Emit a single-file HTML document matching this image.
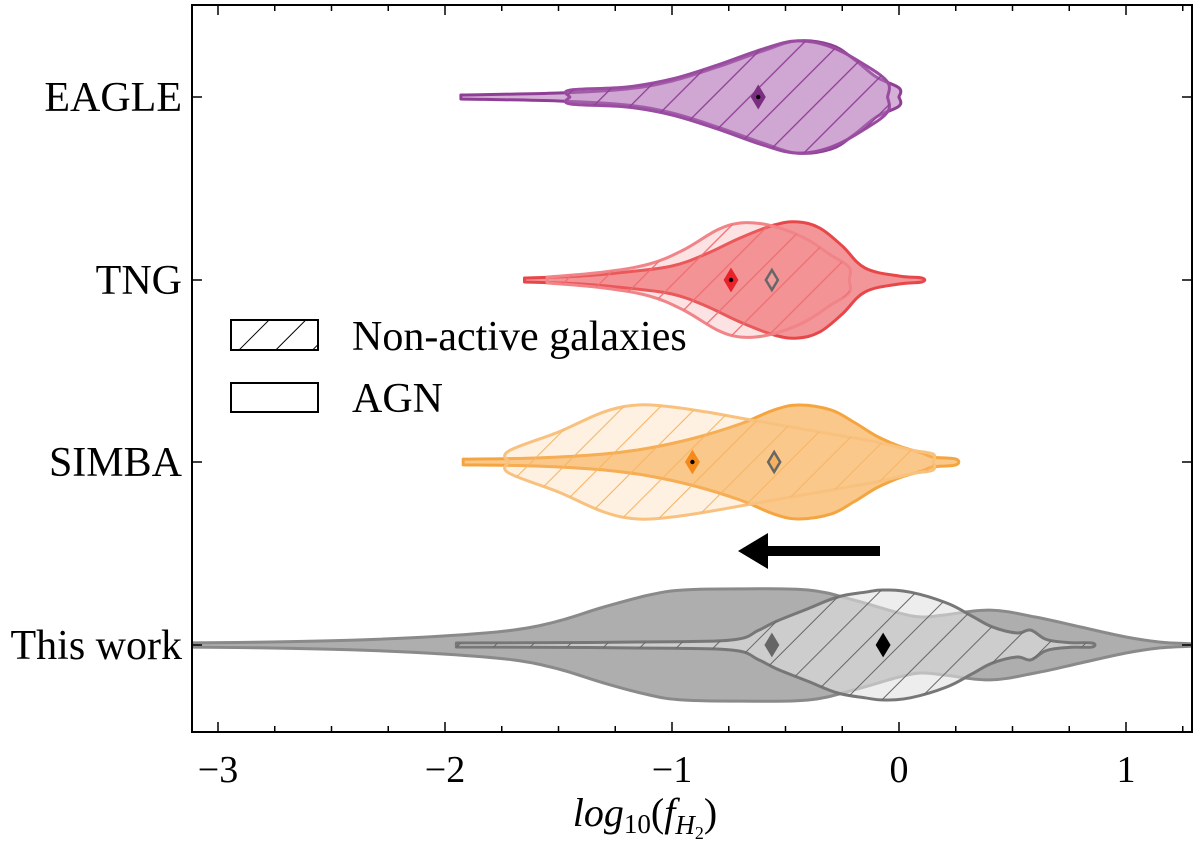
<!DOCTYPE html>
<html><head><meta charset="utf-8"><style>
html,body{margin:0;padding:0;background:#fff;}
svg{display:block;font-family:"Liberation Serif","DejaVu Serif",serif;}
</style></head><body>
<svg id="chart" width="1200" height="846" viewBox="0 0 1200 846" xmlns="http://www.w3.org/2000/svg">
<defs>
<pattern id="h-purple" patternUnits="userSpaceOnUse" width="26" height="26" patternTransform="rotate(45)"><line x1="0" y1="0" x2="0" y2="26" stroke="#8e3f95" stroke-width="2.6"/></pattern>
<pattern id="h-red" patternUnits="userSpaceOnUse" width="26" height="26" patternTransform="rotate(45)"><line x1="0" y1="0" x2="0" y2="26" stroke="#ef6f72" stroke-width="2.6"/></pattern>
<pattern id="h-orange" patternUnits="userSpaceOnUse" width="26" height="26" patternTransform="rotate(45)"><line x1="0" y1="0" x2="0" y2="26" stroke="#f7b565" stroke-width="2.2"/></pattern>
<pattern id="h-grey" patternUnits="userSpaceOnUse" width="26" height="26" patternTransform="rotate(45)"><line x1="0" y1="0" x2="0" y2="26" stroke="#666" stroke-width="2"/></pattern>
<pattern id="h-black" patternUnits="userSpaceOnUse" width="26" height="26" patternTransform="rotate(45)"><line x1="0" y1="0" x2="0" y2="26" stroke="#000" stroke-width="2"/></pattern>
<clipPath id="plotclip"><rect x="192" y="5" width="1000" height="727"/></clipPath>
</defs>
<g id="violins" clip-path="url(#plotclip)"></g>
<g id="axes"></g>
<g>
<rect x="231" y="320" width="87" height="30" fill="url(#h-black)" stroke="#000" stroke-width="2"/>
<text x="352" y="350" font-size="42">Non-active galaxies</text>
<rect x="231" y="383" width="87" height="29" fill="none" stroke="#000" stroke-width="2"/>
<text x="352" y="412" font-size="42">AGN</text>
</g>
<polygon points="880,546 768,546 768,533 738,551 768,569 768,556 880,556" fill="#000"/>
</svg>
<script>
const categories = ["EAGLE","TNG","SIMBA","This work"];
const xTicks = [-3,-2,-1,0,1];
const xTickLabels = ["\u22123","\u22122","\u22121","0","1"];
// violin profiles: x (log10 fH2) and half-width density (fraction of category spacing)
const eagleAgnX = [-1.93,-1.5,-1.2,-1.0,-0.8,-0.6,-0.45,-0.3,-0.2,-0.1,0.0,0.0];
const eagleAgnW = [0.011,0.022,0.044,0.088,0.165,0.253,0.308,0.286,0.209,0.11,0.05,0];
const eagleNonX = [-1.45,-1.45,-1.2,-1.0,-0.8,-0.6,-0.45,-0.3,-0.15,-0.05,-0.05];
const eagleNonW = [0,0.038,0.055,0.099,0.176,0.264,0.308,0.275,0.176,0.082,0];
const tngAgnX = [-1.65,-1.4,-1.2,-1.0,-0.85,-0.7,-0.55,-0.45,-0.35,-0.25,-0.15,0.0,0.1];
const tngAgnW = [0.011,0.022,0.044,0.077,0.143,0.231,0.302,0.319,0.286,0.187,0.066,0.022,0.011];
const tngNonX = [-1.55,-1.3,-1.1,-0.95,-0.8,-0.7,-0.6,-0.5,-0.4,-0.3,-0.22,-0.22];
const tngNonW = [0.016,0.044,0.088,0.165,0.275,0.313,0.308,0.275,0.22,0.137,0.07,0];
const simbaAgnX = [-1.92,-1.6,-1.3,-1.1,-0.9,-0.7,-0.55,-0.44,-0.3,-0.2,-0.1,0.0,0.1,0.15,0.25];
const simbaAgnW = [0.016,0.022,0.044,0.077,0.132,0.209,0.286,0.313,0.286,0.22,0.143,0.088,0.05,0.027,0.016];
const simbaNonX = [-1.72,-1.72,-1.5,-1.3,-1.15,-1.0,-0.85,-0.7,-0.5,-0.3,-0.1,0.05,0.15,0.15];
const simbaNonW = [0,0.06,0.165,0.275,0.313,0.302,0.275,0.242,0.198,0.154,0.11,0.066,0.044,0];
const workAgnX = [-3.2,-2.8,-2.4,-2.0,-1.7,-1.5,-1.3,-1.1,-0.95,-0.7,-0.4,-0.2,0.0,0.1,0.2,0.4,0.6,0.8,1.0,1.15,1.3];
const workAgnW = [0.011,0.016,0.027,0.05,0.082,0.132,0.209,0.275,0.302,0.308,0.302,0.247,0.176,0.154,0.165,0.192,0.154,0.099,0.044,0.016,0.005];
const workNonX = [-1.95,-1.5,-1.0,-0.72,-0.62,-0.54,-0.4,-0.27,-0.15,-0.07,0.05,0.21,0.32,0.41,0.52,0.58,0.65,0.75,0.85];
const workNonW = [0.011,0.013,0.018,0.03,0.08,0.13,0.2,0.264,0.29,0.302,0.29,0.231,0.16,0.1,0.066,0.082,0.03,0.013,0.011];
const medianNon = [-0.62,-0.74,-0.91,-0.56];
const medianAgn = [-0.62,-0.56,-0.55,-0.07];

const L=192, R=1192, T=5, B=732;
const X0=899, XS=227;
const catY=[97,280,462,645], SP=182;
function xs(v){return X0+v*XS;}
function ys(i){return catY[i];}
function hw(w){return w*SP;}

const NS="http://www.w3.org/2000/svg";
function mk(tag,attrs,parent){const e=document.createElementNS(NS,tag);for(const k in attrs)e.setAttribute(k,attrs[k]);parent.appendChild(e);return e;}

function violinPath(xa,wa,ci){
  const pts=[];
  for(let i=0;i<xa.length;i++)pts.push([xs(xa[i]),ys(ci)-hw(wa[i])]);
  for(let i=xa.length-1;i>=0;i--)pts.push([xs(xa[i]),ys(ci)+hw(wa[i])]);
  let d="M"+pts[0][0].toFixed(1)+","+pts[0][1].toFixed(1);
  for(let i=0;i<pts.length-1;i++){
    const p0=pts[Math.max(i-1,0)],p1=pts[i],p2=pts[i+1],p3=pts[Math.min(i+2,pts.length-1)];
    const t=0.18;
    const c1=[p1[0]+(p2[0]-p0[0])*t,p1[1]+(p2[1]-p0[1])*t];
    const c2=[p2[0]-(p3[0]-p1[0])*t,p2[1]-(p3[1]-p1[1])*t];
    d+=" C"+c1[0].toFixed(1)+","+c1[1].toFixed(1)+" "+c2[0].toFixed(1)+","+c2[1].toFixed(1)+" "+p2[0].toFixed(1)+","+p2[1].toFixed(1);
  }
  return d+"Z";
}
const vg=document.getElementById('violins');
const specs=[
 {x:eagleAgnX,w:eagleAgnW,c:0,fill:"rgba(160,80,165,0.45)",stroke:"#8e3f95",hatch:null,name:"violin-eagle-agn"},
 {x:eagleNonX,w:eagleNonW,c:0,fill:"rgba(200,150,205,0.35)",stroke:"#9a4ca0",hatch:"h-purple",name:"violin-eagle-non-active"},
 {x:tngAgnX,w:tngAgnW,c:1,fill:"rgba(235,80,85,0.6)",stroke:"#e8474a",hatch:null,name:"violin-tng-agn"},
 {x:tngNonX,w:tngNonW,c:1,fill:"rgba(245,140,140,0.25)",stroke:"#f08488",hatch:"h-red",name:"violin-tng-non-active"},
 {x:simbaAgnX,w:simbaAgnW,c:2,fill:"rgba(247,170,75,0.65)",stroke:"#f5a540",hatch:null,name:"violin-simba-agn"},
 {x:simbaNonX,w:simbaNonW,c:2,fill:"rgba(250,200,140,0.25)",stroke:"#f9c17e",hatch:"h-orange",name:"violin-simba-non-active"},
 {x:workAgnX,w:workAgnW,c:3,fill:"rgba(140,140,140,0.7)",stroke:"#8a8a8a",hatch:null,name:"violin-this-work-agn"},
 {x:workNonX,w:workNonW,c:3,fill:"rgba(225,225,225,0.6)",stroke:"#777",hatch:"h-grey",name:"violin-this-work-non-active"}
];
specs.forEach(s=>{
  const d=violinPath(s.x,s.w,s.c);
  const p=mk('path',{d:d,fill:s.fill,stroke:s.stroke,"stroke-width":3,"stroke-linejoin":"round"},vg);
  
  
  if(s.hatch){
    const h=mk('path',{d:d,fill:"url(#"+s.hatch+")",stroke:"none"},vg);
    
    
  }
});
function diamond(v,ci,fill,stroke,dot,name){
  const cx=xs(v),cy=ys(ci);
  const e=mk('polygon',{points:`${cx},${cy-10} ${cx+6},${cy} ${cx},${cy+10} ${cx-6},${cy}`,fill:fill,stroke:stroke,"stroke-width":2.5},vg);
  
  
  if(dot){const c=mk('circle',{cx:cx,cy:cy,r:2.2,fill:"#000"},vg);
    
    }
}
diamond(medianAgn[0],0,"#8e3f95","#666",false,"median-eagle-agn");
diamond(medianNon[0],0,"#7b2d82","#7b2d82",true,"median-eagle-non-active");
diamond(medianAgn[1],1,"#f29a9c","#666",false,"median-tng-agn");
diamond(medianNon[1],1,"#e8242a","#e8242a",true,"median-tng-non-active");
diamond(medianAgn[2],2,"#f5b060","#666",false,"median-simba-agn");
diamond(medianNon[2],2,"#f58a1a","#f58a1a",true,"median-simba-non-active");
diamond(medianNon[3],3,"#666","#666",false,"median-this-work-agn");
diamond(medianAgn[3],3,"#000","#000",false,"median-this-work-non-active");

const ag=document.getElementById('axes');
const fr=mk('rect',{x:L,y:T,width:R-L,height:B-T,fill:"none",stroke:"#000","stroke-width":2},ag);


for(let v=-3.25;v<=1.3;v+=0.25){
  const x=xs(v); if(x<L||x>R)continue;
  const major=Math.abs(v-Math.round(v))<1e-6;
  const len=major?10:6;
  mk('line',{x1:x,y1:B,x2:x,y2:B-len,stroke:"#000","stroke-width":1.5},ag);
  mk('line',{x1:x,y1:T,x2:x,y2:T+len,stroke:"#000","stroke-width":1.5},ag);
}
xTicks.forEach((v,i)=>{
  const t=mk('text',{x:xs(v),y:782,"font-size":38,"text-anchor":"middle"},ag);
  t.textContent=xTickLabels[i];
  
  
});
categories.forEach((c,i)=>{
  mk('line',{x1:L,y1:ys(i),x2:L+10,y2:ys(i),stroke:"#000","stroke-width":1.5},ag);
  mk('line',{x1:R,y1:ys(i),x2:R-10,y2:ys(i),stroke:"#000","stroke-width":1.5},ag);
  const t=mk('text',{x:182,y:ys(i)+14,"font-size":42,"text-anchor":"end"},ag);
  t.textContent=c;
  
  
});
const xl=mk('text',{x:645,y:826,"font-size":40,"text-anchor":"middle","font-style":"italic"},ag);


xl.innerHTML='log<tspan font-style="normal" font-size="27" dy="7">10</tspan><tspan font-style="normal" dy="-7">(</tspan>f<tspan font-size="27" dy="8">H</tspan><tspan font-size="18" font-style="normal" dy="5">2</tspan><tspan font-style="normal" dy="-13">)</tspan>';
</script>
</body></html>
